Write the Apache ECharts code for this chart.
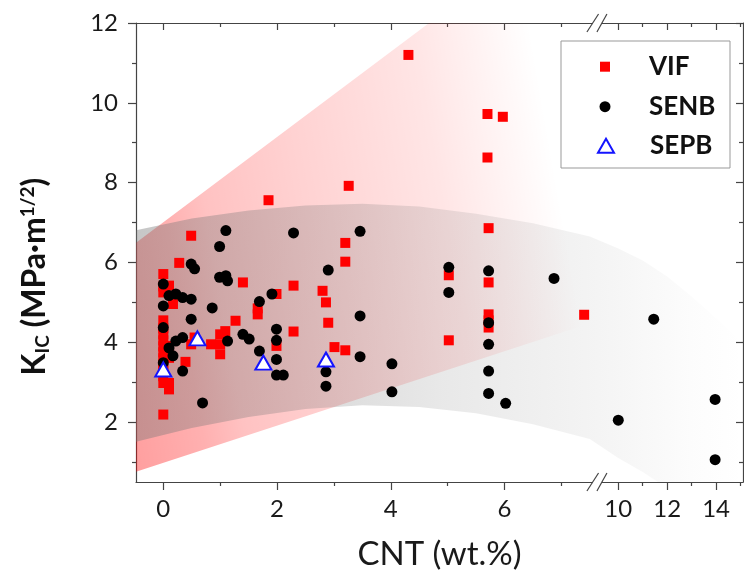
<!DOCTYPE html>
<html lang="en">
  <head>
    <meta charset="UTF-8" />
    <title>K_IC against CNT content</title>
    <script src="https://cdn.jsdelivr.net/npm/echarts@6.0.0/dist/echarts.min.js"></script>
    <style>
      html, body { margin: 0; padding: 0; background: #fff; }
      #main { width: 744px; height: 579px; }
    </style>
  </head>
  <body>
    <div id="main"></div>

    <script>
      // [CNT wt.%, K_IC MPa·m^1/2]
      const vifData = [
        [0, 5.71], [0, 5.4], [0, 5.25], [0, 4.55], [0, 4.35], [0, 4.2], [0, 4.05], [0, 3.9],
        [0, 3.75], [0, 3.6], [0, 3.45], [0, 3.3], [0, 3.15], [0, 2.98], [0, 2.19],
        [0.1, 5.42], [0.1, 3.91], [0.1, 3.61], [0.1, 2.98], [0.1, 2.82],
        [0.17, 4.96], [0.28, 5.99], [0.39, 3.51], [0.49, 6.67], [0.49, 3.95], [0.55, 4.12],
        [0.84, 3.95], [1.0, 4.2], [1.0, 3.95], [1.0, 3.7], [1.09, 4.28], [1.27, 4.54],
        [1.4, 5.5], [1.66, 4.85], [1.66, 4.7], [1.85, 7.56], [1.99, 5.21], [1.99, 3.91],
        [2.29, 5.42], [2.29, 4.27], [2.8, 5.29], [2.86, 5.0], [2.9, 4.49], [3.01, 3.88],
        [3.2, 6.49], [3.2, 6.02], [3.2, 3.8], [3.26, 7.92], [4.31, 11.2],
        [5.02, 5.68], [5.02, 4.05], [5.7, 9.72], [5.7, 8.63], [5.72, 6.86], [5.72, 5.5],
        [5.72, 4.7], [5.72, 4.55], [5.72, 4.37], [5.97, 9.65], [7.4, 4.69]
      ];
      const senbData = [
        [0, 5.46], [0, 4.91], [0, 4.37], [0, 3.49], [0.1, 5.17], [0.1, 3.86], [0.17, 3.66],
        [0.22, 5.21], [0.22, 4.03], [0.34, 5.12], [0.34, 4.12], [0.34, 3.28],
        [0.49, 5.96], [0.49, 5.08], [0.49, 4.58], [0.55, 5.84], [0.69, 2.48], [0.86, 4.86],
        [0.99, 6.4], [0.99, 5.63], [1.1, 6.8], [1.1, 5.67], [1.13, 5.54], [1.13, 4.03],
        [1.4, 4.2], [1.51, 4.08], [1.69, 5.02], [1.69, 3.78], [1.91, 5.21],
        [1.99, 4.33], [1.99, 4.05], [1.99, 3.57], [1.99, 3.18], [2.11, 3.18], [2.29, 6.74],
        [2.86, 3.26], [2.86, 2.9], [2.9, 5.81], [3.46, 6.78], [3.46, 4.66], [3.46, 3.64],
        [4.02, 3.46], [4.02, 2.76], [5.02, 5.88], [5.02, 5.25],
        [5.72, 5.79], [5.72, 4.49], [5.72, 3.95], [5.72, 3.28], [5.72, 2.72], [6.02, 2.47],
        [6.87, 5.6], [10.0, 2.05], [11.45, 4.58], [13.96, 2.57], [13.96, 1.06]
      ];
      const sepbData = [[0, 3.32], [0.6, 4.1], [1.76, 3.49], [2.86, 3.57]];

      // shaded bands: [CNT, lower, upper]
      const vifBand = [[-0.5, 0.75, 6.47], [15.1, 5.73, 17.9]];
      const fitBand = [
        [-0.5, 1.5, 6.8], [0.5, 1.85, 7.1], [1.5, 2.13, 7.3], [2.5, 2.33, 7.43],
        [3.5, 2.42, 7.47], [4.5, 2.38, 7.4], [5.5, 2.22, 7.22], [6.5, 1.95, 6.98],
        [7.5, 1.58, 6.65], [10, 1.1, 6.35], [11, 0.75, 6.05], [12, 0.35, 5.65],
        [13, -0.1, 5.15], [14, -0.6, 4.6], [15.1, -1.2, 3.95]
      ];

      const xMajor = [0, 2, 4, 6, 10, 12, 14];
      const xMinor = [1, 3, 5, 7, 11, 13, 15];
      const yMajor = [2, 4, 6, 8, 10, 12];
      const yMinor = [1, 3, 5, 7, 9, 11];

      // broken x axis: full scale up to 7.6, then 10..15 squeezed
      const BREAK_LO = 7.6, BREAK_HI = 10, RIGHT_START = 8, RIGHT_SCALE = 0.43;
      function toAxis(x) {
        if (x <= BREAK_LO) return x;
        if (x >= BREAK_HI) return RIGHT_START + (x - BREAK_HI) * RIGHT_SCALE;
        return BREAK_LO + (x - BREAK_LO) * (RIGHT_START - BREAK_LO) / (BREAK_HI - BREAK_LO);
      }
      function fromAxis(v) {
        if (v <= BREAK_LO) return v;
        if (v >= RIGHT_START) return BREAK_HI + (v - RIGHT_START) / RIGHT_SCALE;
        return BREAK_LO + (v - BREAK_LO) * (BREAK_HI - BREAK_LO) / (RIGHT_START - BREAK_LO);
      }

      const X_MIN = toAxis(-0.48), X_MAX = toAxis(15.1);
      const Y_MIN = 0.5, Y_MAX = 12;
      const BREAK_MARK = 7.63;

      const frame = { color: '#444', width: 1.2 };
      const font = 'Lato, "Open Sans", sans-serif';

      function xLayer(position, ticks, len, inside, main) {
        return {
          type: 'value', min: X_MIN, max: X_MAX, position: position,
          axisLine: { show: main, onZero: false, lineStyle: frame },
          axisTick: { show: true, inside: inside, length: len, customValues: ticks.map(toAxis), lineStyle: frame },
          axisLabel: { show: false },
          splitLine: { show: false }
        };
      }
      function yLayer(position, ticks, len, inside, main) {
        return {
          type: 'value', min: Y_MIN, max: Y_MAX, position: position,
          axisLine: { show: main, onZero: false, lineStyle: frame },
          axisTick: { show: true, inside: inside, length: len, customValues: ticks, lineStyle: frame },
          axisLabel: { show: false },
          splitLine: { show: false }
        };
      }

      // band polygon with a linear fade running between two data points
      function bandSeries(band, from, to, stops) {
        return {
          type: 'custom',
          silent: true,
          clip: true,
          xAxisIndex: 0,
          yAxisIndex: 0,
          data: [0],
          renderItem: function (params, api) {
            const upper = band.map((p) => api.coord([toAxis(p[0]), p[2]]));
            const lower = band.map((p) => api.coord([toAxis(p[0]), p[1]])).reverse();
            const a = api.coord([toAxis(from[0]), from[1]]);
            const b = api.coord([toAxis(to[0]), to[1]]);
            return {
              type: 'polygon',
              shape: { points: upper.concat(lower) },
              style: {
                fill: { type: 'linear', x: a[0], y: a[1], x2: b[0], y2: b[1], global: true, colorStops: stops }
              }
            };
          }
        };
      }

      const bottomX = xLayer('bottom', xMajor, 8, false, true);
      bottomX.axisLabel = {
        show: true,
        customValues: xMajor.map(toAxis),
        formatter: (v) => String(Math.round(fromAxis(v))),
        margin: 15,
        fontFamily: font,
        fontSize: 24,
        color: '#1a1a1a'
      };
      bottomX.name = 'CNT (wt.%)';
      bottomX.nameLocation = 'middle';
      bottomX.nameGap = 56;
      bottomX.nameTextStyle = { fontFamily: font, fontSize: 33, color: '#1a1a1a' };

      const leftY = yLayer('left', yMajor, 8, false, true);
      leftY.axisLabel = { show: true, customValues: yMajor, margin: 18, fontFamily: font, fontSize: 24, color: '#1a1a1a' };
      leftY.name = '{t|K}{sub|IC}{t| (MPa·m}{sup|1/2}{t|)}';
      leftY.nameLocation = 'middle';
      leftY.nameGap = 84;
      leftY.nameTextStyle = {
        padding: [0, 48, 0, 0],
        rich: {
          t: { fontFamily: font, fontWeight: 'bold', fontSize: 32, lineHeight: 34, color: '#111' },
          sub: { fontFamily: font, fontWeight: 'bold', fontSize: 19, lineHeight: 19, verticalAlign: 'bottom', color: '#111' },
          sup: { fontFamily: font, fontWeight: 'bold', fontSize: 19, lineHeight: 19, verticalAlign: 'top', color: '#111' }
        }
      };

      function legendItem(name, top, w, h, left) {
        return {
          data: [name],
          orient: 'vertical',
          left: left,
          top: top,
          padding: 0,
          itemWidth: w,
          itemHeight: h,
          selectedMode: false,
          textStyle: { fontFamily: font, fontSize: 26, fontWeight: 'bold', color: '#111', lineHeight: 28, padding: [0, 0, 0, 649 - (left + w + 5)] }
        };
      }

      const option = {
        animation: false,
        backgroundColor: '#fff',
        grid: { left: 136, right: 1, top: 23, bottom: 97 },
        xAxis: [
          bottomX,
          xLayer('bottom', xMinor, 4, false, false),
          xLayer('top', xMajor, 7, true, true),
          xLayer('top', xMinor, 4, true, false)
        ],
        yAxis: [
          leftY,
          yLayer('left', yMinor, 4, false, false),
          yLayer('right', yMajor, 7, true, true),
          yLayer('right', yMinor, 4, true, false)
        ],
        legend: [
          legendItem('VIF', 52.7, 10, 10, 600),
          legendItem('SENB', 92.7, 11, 11, 599.5),
          legendItem('SEPB', 131.7, 16, 14, 597)
        ],
        series: [
          bandSeries(vifBand, [-0.5, 0.5], [7.6, 2.5], [
            { offset: 0, color: 'rgba(255,0,0,0.38)' },
            { offset: 0.16, color: 'rgba(255,0,0,0.31)' },
            { offset: 0.25, color: 'rgba(255,0,0,0.24)' },
            { offset: 0.45, color: 'rgba(255,0,0,0.18)' },
            { offset: 0.75, color: 'rgba(255,0,0,0.1)' },
            { offset: 1, color: 'rgba(255,0,0,0)' }
          ]),
          bandSeries(fitBand, [-0.48, 5], [15.1, 5], [
            { offset: 0, color: 'rgba(120,120,120,0.42)' },
            { offset: 0.5, color: 'rgba(120,120,120,0.17)' },
            { offset: 0.77, color: 'rgba(120,120,120,0.08)' },
            { offset: 0.92, color: 'rgba(120,120,120,0.02)' },
            { offset: 1, color: 'rgba(120,120,120,0)' }
          ]),
          {
            name: 'VIF', type: 'scatter', symbol: 'rect', symbolSize: 10,
            itemStyle: { color: '#ff0000', opacity: 1 },
            data: vifData.map((p) => [toAxis(p[0]), p[1]])
          },
          {
            name: 'SENB', type: 'scatter', symbol: 'circle', symbolSize: 11,
            itemStyle: { color: '#000', opacity: 1 },
            data: senbData.map((p) => [toAxis(p[0]), p[1]])
          },
          {
            name: 'SEPB', type: 'scatter', symbol: 'triangle', symbolSize: [16, 14],
            itemStyle: { color: '#fff', borderColor: '#1414ff', borderWidth: 2, opacity: 1 },
            data: sepbData.map((p) => [toAxis(p[0]), p[1]])
          }
        ]
      };

      const chart = echarts.init(document.getElementById('main'), null, { renderer: 'canvas' });
      chart.setOption(option);

      // legend frame and the "//" break marks on the top and bottom spines
      const bx = chart.convertToPixel({ xAxisIndex: 0 }, BREAK_MARK);
      const spines = [chart.convertToPixel({ yAxisIndex: 0 }, Y_MAX), chart.convertToPixel({ yAxisIndex: 0 }, Y_MIN)];
      const graphic = [{
        type: 'rect', z: 100,
        shape: { x: 561, y: 41, width: 169, height: 127 },
        style: { fill: 'transparent', stroke: '#999', lineWidth: 1 }
      }];
      spines.forEach((y) => {
        graphic.push({ type: 'rect', z: 100, shape: { x: bx - 4.5, y: y - 2, width: 9.2, height: 4 }, style: { fill: '#fff' } });
        graphic.push({ type: 'line', z: 101, shape: { x1: bx - 10.3, y1: y + 9, x2: bx + 1.3, y2: y - 9 }, style: { stroke: '#444', lineWidth: 1.2 } });
        graphic.push({ type: 'line', z: 101, shape: { x1: bx - 0.3, y1: y + 9, x2: bx + 9.7, y2: y - 9 }, style: { stroke: '#444', lineWidth: 1.2 } });
      });
      chart.setOption({ graphic: graphic });
    </script>
  </body>
</html>
